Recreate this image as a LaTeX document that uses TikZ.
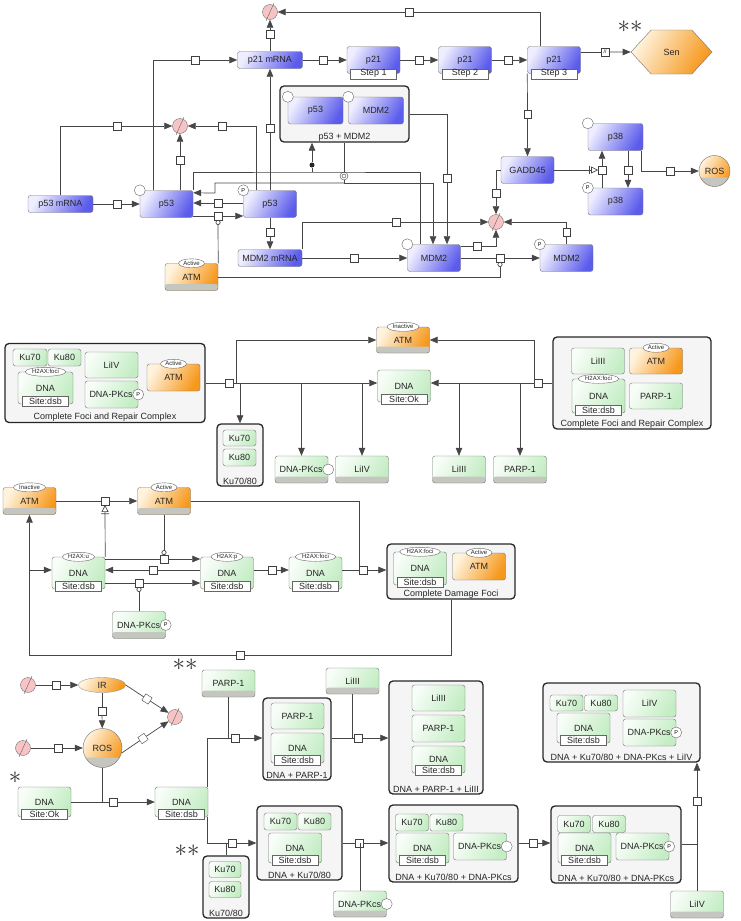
\documentclass[tikz,border=0pt]{standalone}
\usepackage{fontspec}
\setmainfont{Liberation Sans}
\usetikzlibrary{arrows.meta,shapes.geometric,shapes.symbols}

\definecolor{bluea}{RGB}{238,238,255}
\definecolor{blueb}{RGB}{92,92,236}
\definecolor{grna}{RGB}{247,253,247}
\definecolor{grnb}{RGB}{196,237,196}
\definecolor{orga}{RGB}{255,243,222}
\definecolor{orgb}{RGB}{246,152,28}
\definecolor{sinkc}{RGB}{246,196,196}
\definecolor{bandc}{RGB}{198,198,192}
\definecolor{cplxc}{RGB}{245,245,245}
\definecolor{linec}{RGB}{70,70,70}

\tikzset{
  lbl/.style={font=\fontsize{9}{10}\selectfont, text=black!85},
  box/.style={lbl, draw=black!55, rounded corners=2.5pt, inner sep=1pt,
    minimum width=53pt, minimum height=27pt},
  prot/.style={box, left color=bluea, right color=blueb, shading angle=60},
  rna/.style={prot, minimum width=65pt, minimum height=17pt},
  grn/.style={box, left color=grna, right color=grnb, shading angle=60},
  org/.style={box, left color=orga, right color=orgb, shading angle=60},
  band/.style={path picture={\fill[bandc] (path picture bounding box.south west)
    rectangle ([yshift=#1]path picture bounding box.south east);}},
  band/.default=6.5pt,
  tag/.style={ellipse, draw=black!60, fill=white, inner xsep=1pt, inner ysep=0pt,
    minimum height=9pt, font=\fontsize{6}{6}\selectfont, text=black!85},
  tg/.style={label={[tag,anchor=center]north:{#1}}},
  info/.style={lbl, draw=black!60, fill=white, inner sep=0.5pt,
    minimum width=46pt, minimum height=10pt},
  stp/.style={label={[info,anchor=center]south:{#1}}},
  site/.style={label={[info,anchor=south,yshift=-2pt]south:{Site:#1}}},
  st/.style={circle, draw=black!60, fill=white, inner sep=0pt, minimum size=11pt,
    font=\fontsize{5.5}{5.5}\selectfont},
  stnw/.style={label={[st,anchor=center]north west:{#1}}},
  stnw/.default={},
  ste/.style={label={[st,anchor=center]east:{#1}}},
  ste/.default={},
  cplx/.style={draw=black!85, line width=1.3pt, rounded corners=4pt, fill=cplxc},
  clab/.style={label={[lbl,anchor=south,inner sep=1.5pt]south:{#1}}},
  proc/.style={draw=black!75, fill=white, inner sep=0pt, minimum size=7.5pt},
  sink/.style={circle, draw=black!55, fill=sinkc, inner sep=0pt, minimum size=15pt},
  asc/.style={circle, fill=black!85, inner sep=0pt, minimum size=5pt},
  dis/.style={circle, draw=black!75, fill=white, inner sep=0pt, minimum size=8pt,
    path picture={\draw[black!75] (path picture bounding box.center) circle (2pt);}},
  ln/.style={draw=linec, line width=0.7pt},
  arr/.style={ln, -{Triangle[length=8pt,width=6.5pt]}},
  cat/.style={ln, -{Circle[open,length=5pt,width=5pt]}},
  nec/.style={ln, -{Bar[width=8pt,sep=1.5pt] Triangle[open,length=7pt,width=7pt]}},
  star/.style={font=\fontsize{24}{24}\selectfont, text=black!80, inner sep=0pt}
}

\begin{document}
\begin{tikzpicture}[x=1pt,y=-1pt]
  \useasboundingbox (0,0) rectangle (740,921);

  % p53 / p21 network
  \node[sink] (s1) at (270,12) {};
  \node[sink] (s2) at (180,126) {};
  \node[sink] (s3) at (496,222) {};
  \node[rna] (p21m) at (270,60) {p21 mRNA};
  \node[prot,stp=Step 1] (p21a) at (373.5,60) {p21};
  \node[prot,stp=Step 2] (p21b) at (465,60) {p21};
  \node[prot,stp=Step 3] (p21c) at (554,60) {p21};
  \node[lbl,draw=black!55,shape=signal,signal to=east and west,signal pointer angle=95,
    left color=orga,right color=orgb,shading angle=60,minimum width=81pt,minimum height=44pt] (sen) at (671.5,52) {Sen};
  \node[star] (ast1) at (630,27) {$\ast\ast$};

  \node[cplx,minimum width=129pt,minimum height=56pt,clab={p53 + MDM2}] (cx) at (344.5,114) {};
  \node[prot,stnw,minimum width=55pt] (cxp) at (315.5,110.5) {p53};
  \node[prot,stnw,minimum width=55pt] (cxm) at (376,110.5) {MDM2};

  \node[rna] (p53m) at (60.5,204) {p53 mRNA};
  \node[prot,stnw] (p53a) at (166.5,204) {p53};
  \node[prot,stnw=P] (p53p) at (270,204) {p53};
  \node[rna,minimum width=64pt] (mdm2m) at (270,258) {MDM2 mRNA};
  \node[org,band,tg=Active] (atm1) at (191.5,277) {ATM};
  \node[prot,stnw] (mdm2a) at (434,258) {MDM2};
  \node[prot,stnw=P] (mdm2p) at (566.5,258) {MDM2};
  \node[prot] (gadd) at (527.5,170) {GADD45};
  \node[prot,stnw,minimum width=55pt] (p38a) at (615.5,137) {p38};
  \node[prot,stnw=P,minimum width=55pt] (p38p) at (615.5,201.5) {p38};
  \node[org,circle,band=9pt,minimum size=31pt,inner sep=0pt] (ros1) at (714.5,171) {ROS};

  \node[proc] (pA) at (270,34) {};
  \node[proc] (pB) at (409,12) {};
  \node[proc] (pC) at (195,60) {};
  \node[proc] (pD) at (270,128) {};
  \node[proc] (pE) at (117,126) {};
  \node[proc] (pF) at (222,126) {};
  \node[proc] (pG) at (180,160) {};
  \node[proc] (pH) at (323,60) {};
  \node[proc] (pI) at (419,60) {};
  \node[proc] (pJ) at (508,60) {};
  \node[proc,font=\fontsize{5}{5}\selectfont] (pK) at (605,52) {//};
  \node[proc] (pL) at (527.5,114) {};
  \node[proc] (pM) at (117,204) {};
  \node[proc] (pN) at (218,203) {};
  \node[proc] (pO) at (218,216) {};
  \node[proc] (pP) at (270,232) {};
  \node[proc] (pQ) at (447,178) {};
  \node[proc] (pR) at (354,258) {};
  \node[proc] (pS) at (500,258) {};
  \node[proc] (pT) at (396,222) {};
  \node[proc] (pU) at (496,193) {};
  \node[proc] (pV) at (477,246) {};
  \node[proc] (pW) at (566.5,232) {};
  \node[proc] (pX) at (602,170) {};
  \node[proc] (pY) at (628,170) {};
  \node[proc] (pZ) at (670,171) {};
  \node[asc] (as1) at (312,165) {};
  \node[dis] (ds1) at (344,176) {};
  \coordinate (j1) at (312,172);
  \coordinate (j2) at (344,183);

  \draw[ln] (p21m) -- (pA);
  \draw[arr] (pA) -- (s1);
  \draw[ln] ([xshift=-14pt]p21c.north) |- (pB);
  \draw[arr] (pB) -- (s1);
  \draw[ln] ([xshift=-13.5pt]p53a.north) |- (pC);
  \draw[arr] (pC) -- (p21m);
  \draw[ln] (p53p) -- (pD);
  \draw[arr] (pD) -- (p21m);
  \draw[ln] (p53m) |- (pE);
  \draw[arr] (pE) -- (s2);
  \draw[ln] ([xshift=-14pt]p53p.north) |- (pF);
  \draw[arr] (pF) -- (s2);
  \draw[ln] ([xshift=13.5pt]p53a.north) -- (pG);
  \draw[arr] (pG) -- (s2);
  \draw[ln] (p21m) -- (pH);
  \draw[arr] (pH) -- (p21a);
  \draw[ln] (p21a) -- (pI);
  \draw[arr] (pI) -- (p21b);
  \draw[ln] (p21b) -- (pJ);
  \draw[arr] (pJ) -- (p21c);
  \draw[ln] ([yshift=8pt]p21c.east) -- (pK);
  \draw[arr] (pK) -- (sen);
  \draw[ln] (p21c.south west) -- (pL);
  \draw[arr] (pL) -- (gadd);
  \draw[ln] (p53m) -- (pM);
  \draw[arr] (pM) -- (p53a);
  \draw[ln] (pN -| p53p.west) -- (pN);
  \draw[arr] (pN) -- (pN -| p53a.east);
  \draw[ln] (pO -| p53a.east) -- (pO);
  \draw[arr] (pO) -- (pO -| p53p.west);
  \draw[cat] (atm1.north east) -- (pO);
  \draw[ln] (p53p) -- (pP);
  \draw[arr] (pP) -- (mdm2m);
  \draw[ln] (p53a.north east) |- (j1) -| ([xshift=-14pt]mdm2a.north);
  \draw[ln] (j1) -- (as1);
  \draw[arr] (as1) -- (as1 |- cx.south);
  \draw[ln] (ds1 |- cx.south) -- (ds1);
  \draw[ln] (ds1) -- (j2);
  \draw[arr] (j2) -| (215,193) -- ([yshift=-2.5pt]p53a.north east);
  \draw[arr] (j2) -| ([xshift=-1pt]mdm2a.north);
  \draw[ln] (cx.east) -| (pQ);
  \draw[arr] (pQ) -- (pQ |- mdm2a.north);
  \draw[ln] (mdm2m) -- (pR);
  \draw[arr] (pR) -- (mdm2a);
  \draw[ln] (mdm2a) -- (pS);
  \draw[arr] (pS) -- (mdm2p);
  \draw[cat] (atm1.east) -| (pS);
  \draw[ln] (mdm2m.north east) |- (pT);
  \draw[arr] (pT) -- (s3);
  \draw[ln] (gadd.west) -| (pU);
  \draw[arr] (pU) -- (s3);
  \draw[ln] (pV -| mdm2a.east) -- (pV);
  \draw[arr] (pV) -| (s3);
  \draw[ln] (mdm2p) -- (pW);
  \draw[arr] (pW) |- (s3);
  \draw[ln] ([xshift=-13.5pt]p38p.north) -- (pX);
  \draw[arr] (pX) -- (pX |- p38a.south);
  \draw[ln] ([xshift=12.5pt]p38a.south) -- (pY);
  \draw[arr] (pY) -- (pY |- p38p.north);
  \draw[nec] (gadd) -- (pX);
  \draw[ln] ([xshift=-2pt]p38a.south east) |- (pZ);
  \draw[arr] (pZ) -- (ros1);

  % repair complexes
  \node[cplx,minimum width=200pt,minimum height=79pt,clab={Complete Foci and Repair Complex}] (cfl) at (105,383) {};
  \node[grn,minimum width=34pt,minimum height=17pt] (k70a) at (30,357.5) {Ku70};
  \node[grn,minimum width=33pt,minimum height=17pt] (k80a) at (64.5,357.5) {Ku80};
  \node[grn,minimum width=55pt,minimum height=32pt,tg=H2AX:foci,site=dsb] (dnaa) at (45.5,388) {DNA};
  \node[grn,minimum height=26pt] (liva) at (111.5,365) {LiIV};
  \node[grn,ste=P,text width=44pt] (pkca) at (111.5,394.5) {DNA-PKcs};
  \node[org,tg=Active] (atma) at (173.5,377.5) {ATM};
  \node[proc] (p1) at (229,383) {};
  \coordinate (j3) at (236,383);
  \node[org,band,tg=Inactive,minimum height=26pt] (atmi) at (403,340) {ATM};
  \node[grn,minimum height=32pt,site=Ok] (dnaok) at (404,386) {DNA};
  \node[cplx,minimum width=46pt,minimum height=62pt,clab={Ku70/80}] (k78) at (240,455) {};
  \node[grn,minimum width=33pt,minimum height=16pt] (k70b) at (239.5,438) {Ku70};
  \node[grn,minimum width=33pt,minimum height=17pt] (k80b) at (239.5,457.5) {Ku80};
  \node[grn,band,ste,text width=44pt] (pkcb) at (301.5,469.5) {DNA-PKcs};
  \node[grn,band] (livb) at (362,469.5) {LiIV};
  \node[grn,band] (liib) at (459,469.5) {LiIII};
  \node[grn,band] (parpb) at (520,469.5) {PARP-1};
  \node[cplx,minimum width=158pt,minimum height=92pt,clab={Complete Foci and Repair Complex}] (cfr) at (632,383) {};
  \node[grn,minimum height=26pt] (liic) at (598,361) {LiIII};
  \node[org,minimum height=26pt,tg=Active] (atmc) at (656,361) {ATM};
  \node[grn,minimum height=34pt,tg=H2AX:foci,site=dsb] (dnac) at (598.5,396) {DNA};
  \node[grn,minimum height=26pt] (parpc) at (656,396) {PARP-1};
  \node[proc] (p2) at (538,383) {};
  \coordinate (j4) at (534,383);

  \draw[ln] (cfl) -- (p1);
  \draw[ln] (p1) -- (j3);
  \draw[arr] (j3) |- (atmi);
  \draw[arr] (j3) -- (j3 -| dnaok.west);
  \draw[arr] (j3) -| (k78.north);
  \draw[arr] (pkcb.north |- j3) -- (pkcb.north);
  \draw[arr] (livb.north |- j3) -- (livb.north);
  \draw[ln] (cfr) -- (p2);
  \draw[ln] (p2) -- (j4);
  \draw[arr] (j4) |- (atmi);
  \draw[arr] (j4) -- (j4 -| dnaok.east);
  \draw[arr] (liib.north |- j4) -- (liib.north);
  \draw[arr] (parpb.north |- j4) -- (parpb.north);

  % damage foci
  \node[org,band,tg=Inactive] (atmd) at (29.5,501) {ATM};
  \node[org,band,tg=Active] (atme) at (164,501) {ATM};
  \node[proc] (q1) at (105,501) {};
  \node[grn,minimum height=32pt,tg=H2AX:u,site=dsb] (dnau) at (78.5,573) {DNA};
  \node[grn,minimum height=32pt,tg=H2AX:p,site=dsb] (dnap) at (227,573) {DNA};
  \node[grn,minimum height=32pt,tg=H2AX:foci,site=dsb] (dnaf) at (315.5,573) {DNA};
  \node[proc] (q2) at (164,559) {};
  \node[proc] (q3) at (153,570) {};
  \node[proc] (q4) at (139,583) {};
  \node[proc] (q5) at (272,570) {};
  \node[proc] (q6) at (363,570) {};
  \coordinate (j5) at (359,570);
  \node[cplx,minimum width=128pt,minimum height=55pt,clab={Complete Damage Foci}] (cdf) at (451,571.5) {};
  \node[grn,minimum height=33pt,tg=H2AX:foci,site=dsb] (dnag) at (420,568.5) {DNA};
  \node[org,tg=Active] (atmg) at (479,566.5) {ATM};
  \node[grn,band,ste=P,text width=44pt] (pkcd) at (139,625) {DNA-PKcs};
  \node[proc] (q7) at (240,655) {};

  \draw[ln] (atmd) -- (q1);
  \draw[arr] (q1) -- (atme);
  \draw[nec] (dnau.north east) -- (q1);
  \draw[ln] (q2 -| dnau.east) -- (q2);
  \draw[arr] (q2) -- (q2 -| dnap.west);
  \draw[cat] (atme) -- (q2);
  \draw[ln] (q3 -| dnap.west) -- (q3);
  \draw[arr] (q3) -- (q3 -| dnau.east);
  \draw[ln] (q4 -| dnau.east) -- (q4);
  \draw[arr] (q4) -- (q4 -| dnap.west);
  \draw[cat] (pkcd) -- (q4);
  \draw[ln] (q5 -| dnap.east) -- (q5);
  \draw[arr] (q5) -- (q5 -| dnaf.west);
  \draw[ln] (q6 -| dnaf.east) -- (q6);
  \draw[ln] (atme) -| (j5);
  \draw[arr] (q6) -- (q6 -| cdf.west);
  \draw[ln] (cdf) |- (q7);
  \draw[arr] (q7) -| (atmd);
  \draw[arr] (atmd |- q3) -- (q3 -| dnau.west);

  % DSB formation and repair
  \node[sink] (sa) at (28,685) {};
  \node[sink] (sb) at (23,748) {};
  \node[sink] (sc) at (175,717) {};
  \node[lbl,ellipse,draw=black!40,left color=orga,right color=orgb,shading angle=60,
    minimum width=47pt,minimum height=15pt,inner sep=0pt] (ir) at (102,685) {IR};
  \node[org,circle,band=10pt,minimum size=39pt,inner sep=0pt] (ros2) at (102.5,748) {ROS};
  \node[proc] (r1) at (56,685) {};
  \node[proc] (r2) at (102,711) {};
  \node[proc,rotate=-33] (r3) at (147,699) {};
  \node[proc,rotate=34] (r4) at (143,738.5) {};
  \node[proc] (r5) at (58,748) {};
  \node[star] (ast2) at (15,778) {$\ast$};
  \node[grn,minimum height=30pt,site=Ok] (dnab) at (44.5,802) {DNA};
  \node[grn,minimum height=30pt,site=dsb] (dnad) at (181.5,802) {DNA};
  \node[proc] (r6) at (113,802) {};

  \node[star] (ast3) at (185,665) {$\ast\ast$};
  \node[grn,band] (parpd) at (228.5,683.5) {PARP-1};
  \node[proc] (r7) at (235,738) {};
  \node[cplx,minimum width=68pt,minimum height=82pt,clab={DNA + PARP-1}] (cdp) at (297,739) {};
  \node[grn,minimum height=26pt] (parpe) at (297.5,716) {PARP-1};
  \node[grn,minimum height=30pt,site=dsb] (dnae) at (297.5,748) {DNA};
  \node[grn,band,minimum height=26pt] (liid) at (352.5,681) {LiIII};
  \node[proc] (r8) at (358,738) {};
  \node[cplx,minimum width=94pt,minimum height=113pt,clab={DNA + PARP-1 + LiIII}] (cdpl) at (436,737.5) {};
  \node[grn,minimum height=26pt] (liie) at (438.5,698) {LiIII};
  \node[grn] (parpf) at (438.5,728.5) {PARP-1};
  \node[grn,minimum height=27pt,site=dsb] (dnaf2) at (438.5,759.5) {DNA};

  \node[star] (ast4) at (187,851) {$\ast\ast$};
  \node[cplx,minimum width=46pt,minimum height=62pt,clab={Ku70/80}] (k78b) at (226,887) {};
  \node[grn,minimum width=32pt,minimum height=16pt] (k70c) at (225,869.5) {Ku70};
  \node[grn,minimum width=32pt,minimum height=16pt] (k80c) at (225,889.5) {Ku80};
  \node[proc] (r9) at (232,843) {};
  \node[cplx,minimum width=85pt,minimum height=74pt,clab={DNA + Ku70/80}] (cdk) at (299.5,843) {};
  \node[grn,minimum width=33pt,minimum height=17pt] (k70d) at (280.5,821.5) {Ku70};
  \node[grn,minimum width=33pt,minimum height=17pt] (k80d) at (314.5,821.5) {Ku80};
  \node[grn,minimum height=30pt,site=dsb] (dnah) at (295,848) {DNA};
  \node[grn,band,minimum height=26pt,ste,text width=44pt] (pkce) at (360,904) {DNA-PKcs};
  \node[proc] (r10) at (359,843) {};
  \node[cplx,minimum width=129pt,minimum height=77pt,clab={DNA + Ku70/80 + DNA-PKcs}] (cdkp) at (453.5,843.5) {};
  \node[grn,minimum width=33pt,minimum height=17pt] (k70e) at (412,822.5) {Ku70};
  \node[grn,minimum width=33pt,minimum height=17pt] (k80e) at (446.5,822.5) {Ku80};
  \node[grn,minimum height=30pt,site=dsb] (dnai) at (422.5,848) {DNA};
  \node[grn,ste,text width=44pt] (pkcf) at (480,846.5) {DNA-PKcs};
  \node[proc] (r11) at (533,843) {};
  \node[cplx,minimum width=130pt,minimum height=77pt,clab={DNA + Ku70/80 + DNA-PKcs}] (cdkq) at (616,844.5) {};
  \node[grn,minimum width=33pt,minimum height=17pt] (k70f) at (574,824) {Ku70};
  \node[grn,minimum width=33pt,minimum height=17pt] (k80f) at (609,824) {Ku80};
  \node[grn,minimum height=30pt,site=dsb] (dnaj) at (584.5,848) {DNA};
  \node[grn,ste=P,text width=44pt] (pkcg) at (642.5,846.5) {DNA-PKcs};
  \node[proc] (r12) at (697,801) {};
  \node[grn,band] (livc) at (697,904.5) {LiIV};
  \node[cplx,minimum width=157pt,minimum height=79pt,clab={DNA + Ku70/80 + DNA-PKcs + LiIV}] (cdkl) at (621.5,722.5) {};
  \node[grn,minimum width=33pt,minimum height=16pt] (k70g) at (566.5,703) {Ku70};
  \node[grn,minimum width=33pt,minimum height=16pt] (k80g) at (601,703) {Ku80};
  \node[grn,minimum height=30pt,site=dsb] (dnak) at (583.5,728) {DNA};
  \node[grn] (livd) at (649.5,703.5) {LiIV};
  \node[grn,ste=P,text width=44pt] (pkch) at (649.5,732.5) {DNA-PKcs};

  \draw[ln] (sa) -- (r1);
  \draw[arr] (r1) -- (ir);
  \draw[ln] (ir) -- (r2);
  \draw[arr] (r2) -- (ros2);
  \draw[ln] (ir.east) -- (r3);
  \draw[arr] (r3) -- (sc);
  \draw[ln] (ros2.-15) -- (r4);
  \draw[arr] (r4) -- (sc);
  \draw[ln] (sb) -- (r5);
  \draw[arr] (r5) -- (ros2);
  \draw[ln] (dnab) -- (r6);
  \draw[arr] (r6) -- (dnad);
  \draw[ln] (ros2) -- (ros2 |- r6);
  \draw[ln] ([xshift=-1pt]dnad.north east) |- (r7);
  \draw[ln] (parpd) -- (parpd |- r7);
  \draw[arr] (r7) -- (r7 -| cdp.west);
  \draw[ln] (r8 -| cdp.east) -- (r8);
  \draw[ln] (liid) -- (liid |- r8);
  \draw[arr] (r8) -- (r8 -| cdpl.west);
  \draw[ln] ([xshift=-1pt]dnad.south east) |- (r9);
  \draw[ln] (k78b) -- (k78b |- r9);
  \draw[arr] (r9) -- (r9 -| cdk.west);
  \draw[ln] (r10 -| cdk.east) -- (r10);
  \draw[ln] (pkce) -- (pkce |- r10);
  \draw[arr] (r10) -- (r10 -| cdkp.west);
  \draw[ln] (r11 -| cdkp.east) -- (r11);
  \draw[arr] (r11) -- (r11 -| cdkq.west);
  \draw[ln] (cdkq.east) -| (r12);
  \draw[ln] (livc) -- (livc |- cdkq.east);
  \draw[arr] (r12) -- (r12 |- cdkl.south);

  % sink slashes
  \foreach \s in {s1,s2,s3,sa,sb,sc}
    \draw[black!60] ([shift={(-4,9)}]\s.center) -- ([shift={(4,-9)}]\s.center);
\end{tikzpicture}
\end{document}
